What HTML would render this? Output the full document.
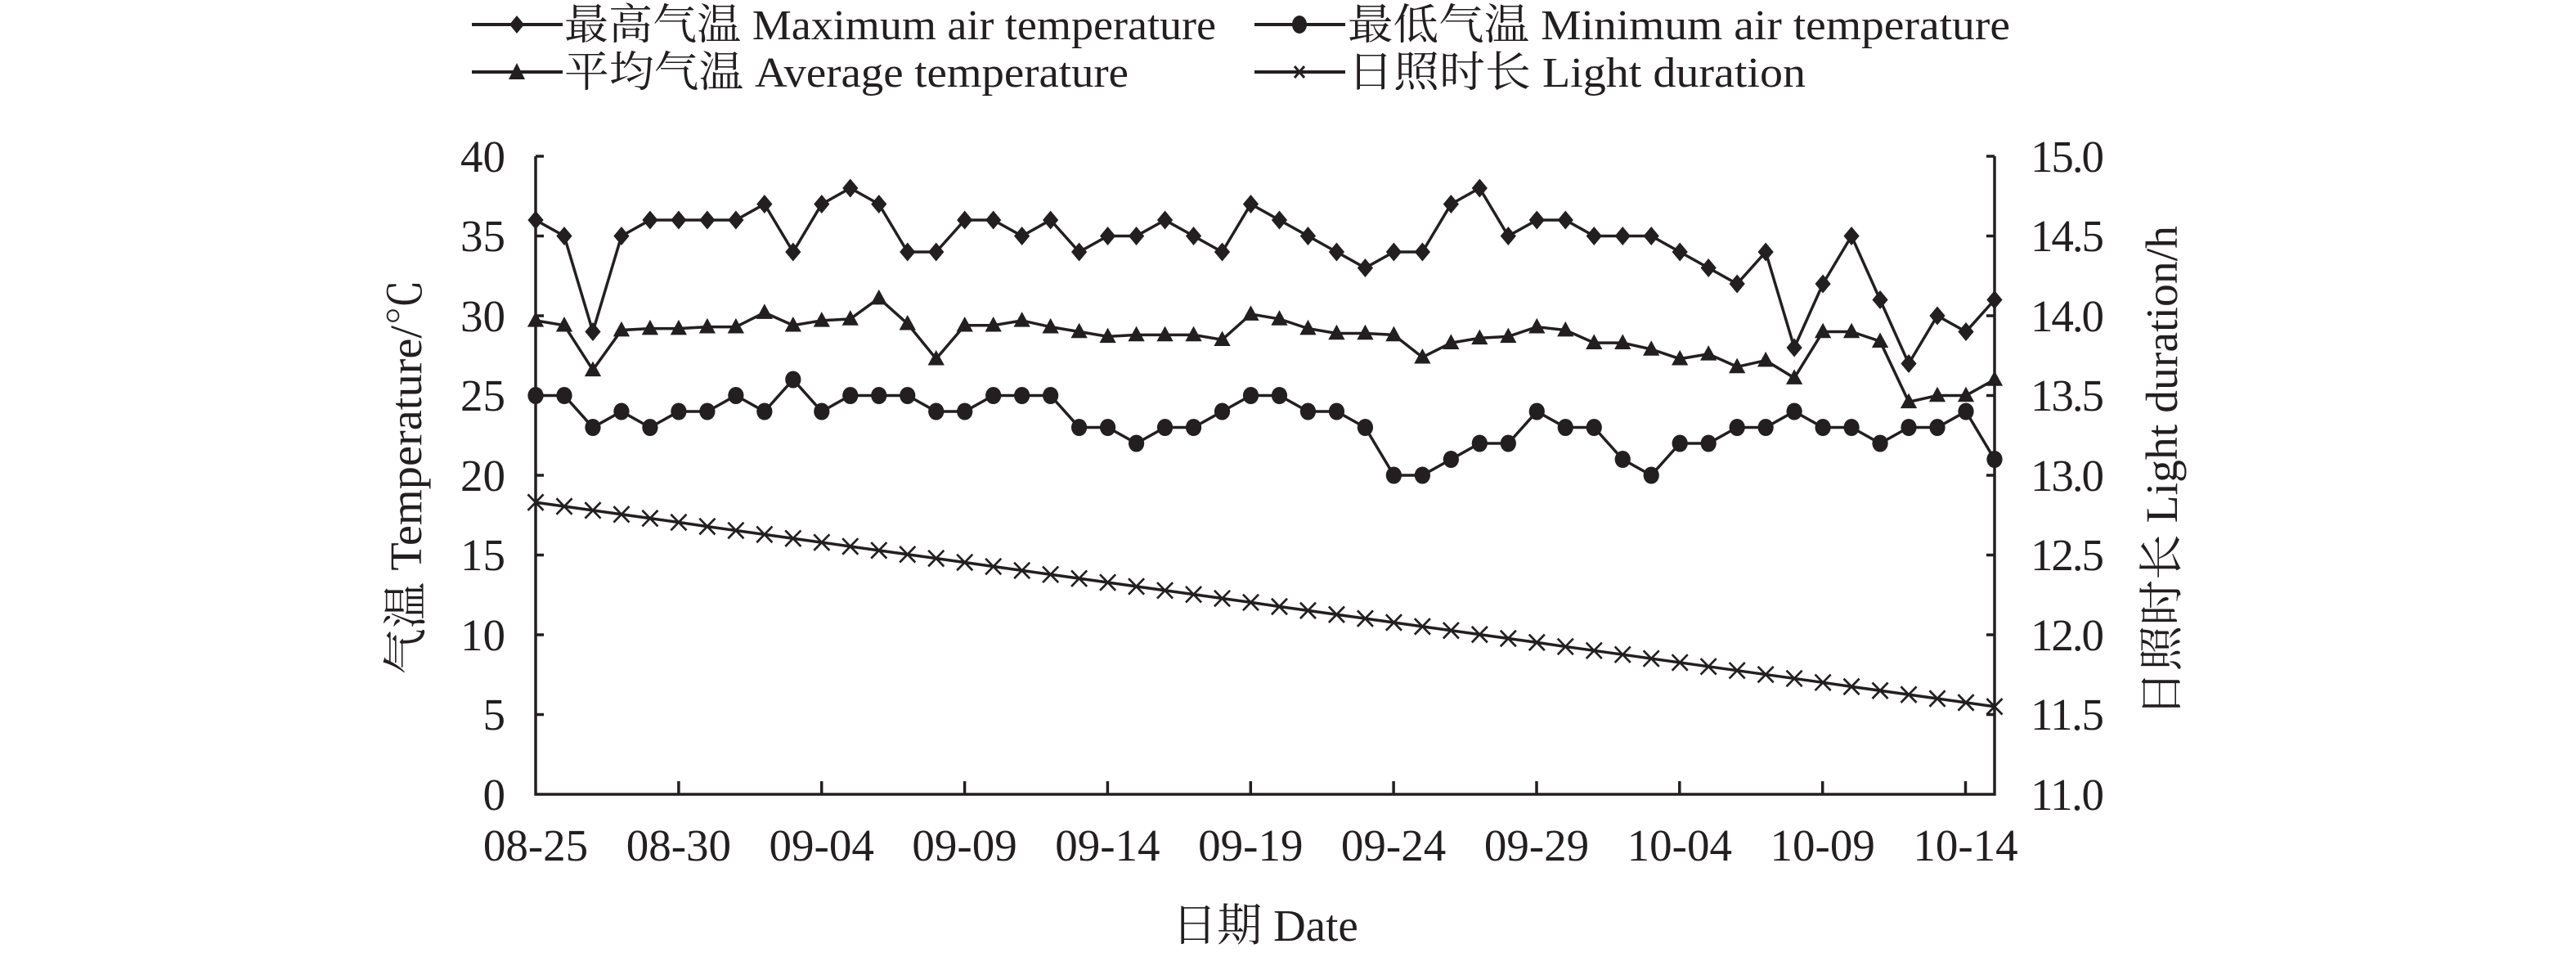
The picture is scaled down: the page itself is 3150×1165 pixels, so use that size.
<!DOCTYPE html>
<html><head><meta charset="utf-8"><style>
html,body{margin:0;padding:0;background:#fff;}
svg{display:block;}
text{font-family:"Liberation Serif","Noto Serif CJK SC",serif;fill:#231f20;}
</style></head><body>
<svg width="3150" height="1165" viewBox="0 0 3150 1165" xmlns="http://www.w3.org/2000/svg">
<defs>
<marker id="dm" markerUnits="userSpaceOnUse" viewBox="-1 -1 2 2" preserveAspectRatio="none" markerWidth="0.55" markerHeight="1.18" refX="0" refY="0" overflow="visible"><polygon points="0,-1 1,0 0,1 -1,0" fill="#231f20"/></marker>
<marker id="cm" markerUnits="userSpaceOnUse" viewBox="-1 -1 2 2" preserveAspectRatio="none" markerWidth="0.55" markerHeight="1.08" refX="0" refY="0" overflow="visible"><ellipse cx="0" cy="0" rx="1" ry="1" fill="#231f20"/></marker>
<marker id="tm" markerUnits="userSpaceOnUse" viewBox="-1 -1 2 2" preserveAspectRatio="none" markerWidth="0.58" markerHeight="1.0" refX="0" refY="0" overflow="visible"><polygon points="-1,-0.8 1,-0.8 0,1.1" fill="#231f20"/></marker>
<marker id="xm" markerUnits="userSpaceOnUse" viewBox="-1 -1 2 2" preserveAspectRatio="none" markerWidth="0.6" markerHeight="1.1" refX="0" refY="0" overflow="visible"><polygon points="-1,-0.82 -0.82,-1 1,0.82 0.82,1" fill="#231f20"/><polygon points="1,-0.82 0.82,-1 -1,0.82 -0.82,1" fill="#231f20"/></marker>
</defs>

<g stroke="#231f20" stroke-width="4">
<line x1="577" y1="30" x2="688" y2="30"/><line x1="1534" y1="30" x2="1645" y2="30"/>
<line x1="577" y1="88" x2="688" y2="88"/><line x1="1534" y1="88" x2="1645" y2="88"/>
</g>
<polygon points="632,19 641,30 632,41 623,30" fill="#231f20"/>
<ellipse cx="1589" cy="30" rx="9" ry="11" fill="#231f20"/>
<polygon points="632,77 642,97 622,97" fill="#231f20"/>
<g stroke="#231f20" stroke-width="3"><line x1="1583" y1="81" x2="1595" y2="95"/><line x1="1595" y1="81" x2="1583" y2="95"/></g>
<g font-size="52">
<text x="690" y="48" textLength="797" lengthAdjust="spacingAndGlyphs">最高气温 Maximum air temperature</text>
<text x="1648" y="48" textLength="810" lengthAdjust="spacingAndGlyphs">最低气温 Minimum air temperature</text>
<text x="690" y="106" textLength="690" lengthAdjust="spacingAndGlyphs">平均气温 Average temperature</text>
<text x="1648" y="106" textLength="560" lengthAdjust="spacingAndGlyphs">日照时长 Light duration</text>
</g>

<g stroke="#231f20" stroke-width="3.5" fill="none">
<polyline points="655,191 655,971 2439,971 2439,191"/>
<path d="M655,191h10M655,288.5h10M655,386h10M655,483.5h10M655,581h10M655,678.5h10M655,776h10M655,873.5h10
M2439,191h-10M2439,288.5h-10M2439,386h-10M2439,483.5h-10M2439,581h-10M2439,678.5h-10M2439,776h-10M2439,873.5h-10
M829.9,971v-16M1004.7,971v-16M1179.6,971v-16M1354.4,971v-16M1529.3,971v-16M1704.1,971v-16M1879,971v-16M2053.8,971v-16M2228.7,971v-16M2403.5,971v-16"/>
</g>

<g font-size="55" text-anchor="end">
<text x="618" y="210">40</text><text x="618" y="307">35</text><text x="618" y="405">30</text><text x="618" y="502">25</text>
<text x="618" y="600">20</text><text x="618" y="697">15</text><text x="618" y="795">10</text><text x="618" y="892">5</text><text x="618" y="990">0</text>
</g>
<g font-size="55">
<text x="2483" y="210" textLength="90">15.0</text><text x="2483" y="307" textLength="90">14.5</text><text x="2483" y="405" textLength="90">14.0</text><text x="2483" y="502" textLength="90">13.5</text>
<text x="2483" y="600" textLength="90">13.0</text><text x="2483" y="697" textLength="90">12.5</text><text x="2483" y="795" textLength="90">12.0</text><text x="2483" y="892" textLength="90">11.5</text><text x="2483" y="990" textLength="90">11.0</text>
</g>
<g font-size="55" text-anchor="middle">
<text x="655" y="1052">08-25</text><text x="829.9" y="1052">08-30</text><text x="1004.7" y="1052">09-04</text><text x="1179.6" y="1052">09-09</text>
<text x="1354.4" y="1052">09-14</text><text x="1529.3" y="1052">09-19</text><text x="1704.1" y="1052">09-24</text><text x="1879" y="1052">09-29</text>
<text x="2053.8" y="1052">10-04</text><text x="2228.7" y="1052">10-09</text><text x="2403.5" y="1052">10-14</text>
<text x="1547" y="1150">日期 Date</text>
<text transform="translate(515,583) rotate(-90)" textLength="483" lengthAdjust="spacingAndGlyphs">气温 Temperature/℃</text>
<text transform="translate(2662,576) rotate(-90)" textLength="600" lengthAdjust="spacingAndGlyphs">日照时长  Light duration/h</text>
</g>

<g transform="translate(655,971) scale(34.98,-19.5)" fill="none" stroke="#231f20">
<polyline vector-effect="non-scaling-stroke" stroke-width="3.5" marker-start="url(#dm)" marker-mid="url(#dm)" marker-end="url(#dm)" points="0,36 1,35 2,29 3,35 4,36 5,36 6,36 7,36 8,37 9,34 10,37 11,38 12,37 13,34 14,34 15,36 16,36 17,35 18,36 19,34 20,35 21,35 22,36 23,35 24,34 25,37 26,36 27,35 28,34 29,33 30,34 31,34 32,37 33,38 34,35 35,36 36,36 37,35 38,35 39,35 40,34 41,33 42,32 43,34 44,28 45,32 46,35 47,31 48,27 49,30 50,29 51,31"/>
<polyline vector-effect="non-scaling-stroke" stroke-width="3.5" marker-start="url(#tm)" marker-mid="url(#tm)" marker-end="url(#tm)" points="0,29.7 1,29.4 2,26.6 3,29.1 4,29.2 5,29.2 6,29.3 7,29.3 8,30.2 9,29.4 10,29.7 11,29.8 12,31.1 13,29.5 14,27.3 15,29.4 16,29.4 17,29.7 18,29.3 19,29.0 20,28.7 21,28.8 22,28.8 23,28.8 24,28.5 25,30.1 26,29.8 27,29.2 28,28.9 29,28.9 30,28.8 31,27.4 32,28.3 33,28.6 34,28.7 35,29.3 36,29.1 37,28.3 38,28.3 39,27.9 40,27.3 41,27.6 42,26.8 43,27.2 44,26.1 45,29.0 46,29.0 47,28.4 48,24.6 49,25.0 50,25.0 51,26.0"/>
<polyline vector-effect="non-scaling-stroke" stroke-width="3.5" marker-start="url(#cm)" marker-mid="url(#cm)" marker-end="url(#cm)" points="0,25 1,25 2,23 3,24 4,23 5,24 6,24 7,25 8,24 9,26 10,24 11,25 12,25 13,25 14,24 15,24 16,25 17,25 18,25 19,23 20,23 21,22 22,23 23,23 24,24 25,25 26,25 27,24 28,24 29,23 30,20 31,20 32,21 33,22 34,22 35,24 36,23 37,23 38,21 39,20 40,22 41,22 42,23 43,23 44,24 45,23 46,23 47,22 48,23 49,23 50,24 51,21"/>
<polyline vector-effect="non-scaling-stroke" stroke-width="3.5" marker-start="url(#xm)" marker-mid="url(#xm)" marker-end="url(#xm)" points="0,18.30 1,18.05 2,17.80 3,17.55 4,17.30 5,17.05 6,16.79 7,16.54 8,16.29 9,16.04 10,15.79 11,15.54 12,15.29 13,15.04 14,14.79 15,14.54 16,14.28 17,14.03 18,13.78 19,13.53 20,13.28 21,13.03 22,12.78 23,12.53 24,12.28 25,12.03 26,11.77 27,11.52 28,11.27 29,11.02 30,10.77 31,10.52 32,10.27 33,10.02 34,9.77 35,9.52 36,9.26 37,9.01 38,8.76 39,8.51 40,8.26 41,8.01 42,7.76 43,7.51 44,7.26 45,7.01 46,6.75 47,6.50 48,6.25 49,6.00 50,5.75 51,5.50"/>
</g>
</svg>
</body></html>
